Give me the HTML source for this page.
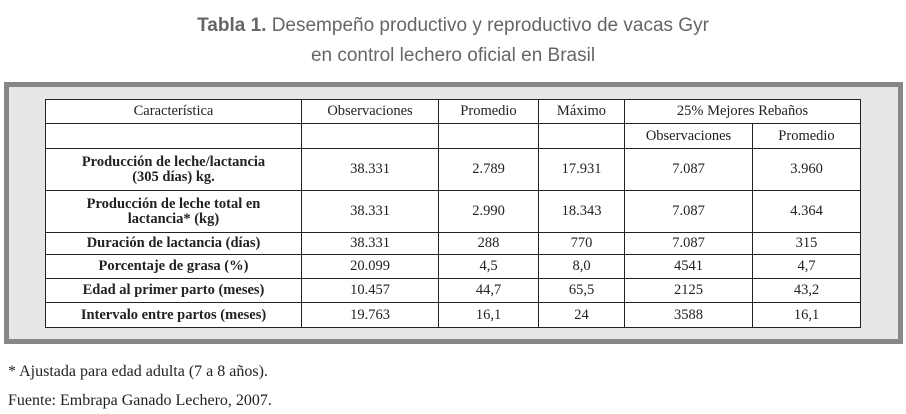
<!DOCTYPE html>
<html><head><meta charset="utf-8"><style>
body{margin:0;width:906px;height:414px;background:#fff;position:relative;overflow:hidden;font-family:"Liberation Serif",serif;color:#222}
.t{position:absolute;left:0;width:906px;text-align:center;font-family:"Liberation Sans",sans-serif;color:#666;font-size:19px}
.frame{position:absolute;left:4px;top:82px;width:889px;height:252px;border:5px solid #878787;background:#e6e7e8}
table{position:absolute;left:45px;top:99px;border-collapse:collapse;background:#fff;font-size:14.5px}
td{border:1.3px solid #222;text-align:center;padding:0;line-height:15px}
td.b{font-weight:bold}
.f{position:absolute;left:8px;font-size:16px;color:#222}
</style></head><body>
<div class="t" style="top:15px"><b>Tabla 1.</b> Desempeño productivo y reproductivo de vacas Gyr</div>
<div class="t" style="top:45px">en control lechero oficial en Brasil</div>
<div class="frame"></div>
<table>
<colgroup><col style="width:256px"><col style="width:137px"><col style="width:100px"><col style="width:86px"><col style="width:128px"><col style="width:108px"></colgroup>
<tr style="height:24px"><td>Característica</td><td>Observaciones</td><td>Promedio</td><td>Máximo</td><td colspan="2">25% Mejores Rebaños</td></tr>
<tr style="height:25px"><td></td><td></td><td></td><td></td><td>Observaciones</td><td>Promedio</td></tr>
<tr style="height:42px"><td class="b">Producción de leche/lactancia<br>(305 días) kg.</td><td>38.331</td><td>2.789</td><td>17.931</td><td>7.087</td><td>3.960</td></tr>
<tr style="height:42px"><td class="b">Producción de leche total en<br>lactancia* (kg)</td><td>38.331</td><td>2.990</td><td>18.343</td><td>7.087</td><td>4.364</td></tr>
<tr style="height:22px"><td class="b">Duración de lactancia (días)</td><td>38.331</td><td>288</td><td>770</td><td>7.087</td><td>315</td></tr>
<tr style="height:24px"><td class="b">Porcentaje de grasa (%)</td><td>20.099</td><td>4,5</td><td>8,0</td><td>4541</td><td>4,7</td></tr>
<tr style="height:24px"><td class="b">Edad al primer parto (meses)</td><td>10.457</td><td>44,7</td><td>65,5</td><td>2125</td><td>43,2</td></tr>
<tr style="height:25px"><td class="b">Intervalo entre partos (meses)</td><td>19.763</td><td>16,1</td><td>24</td><td>3588</td><td>16,1</td></tr>
</table>
<div class="f" style="top:363px">* Ajustada para edad adulta (7 a 8 años).</div>
<div class="f" style="top:392px">Fuente: Embrapa Ganado Lechero, 2007.</div>
</body></html>
